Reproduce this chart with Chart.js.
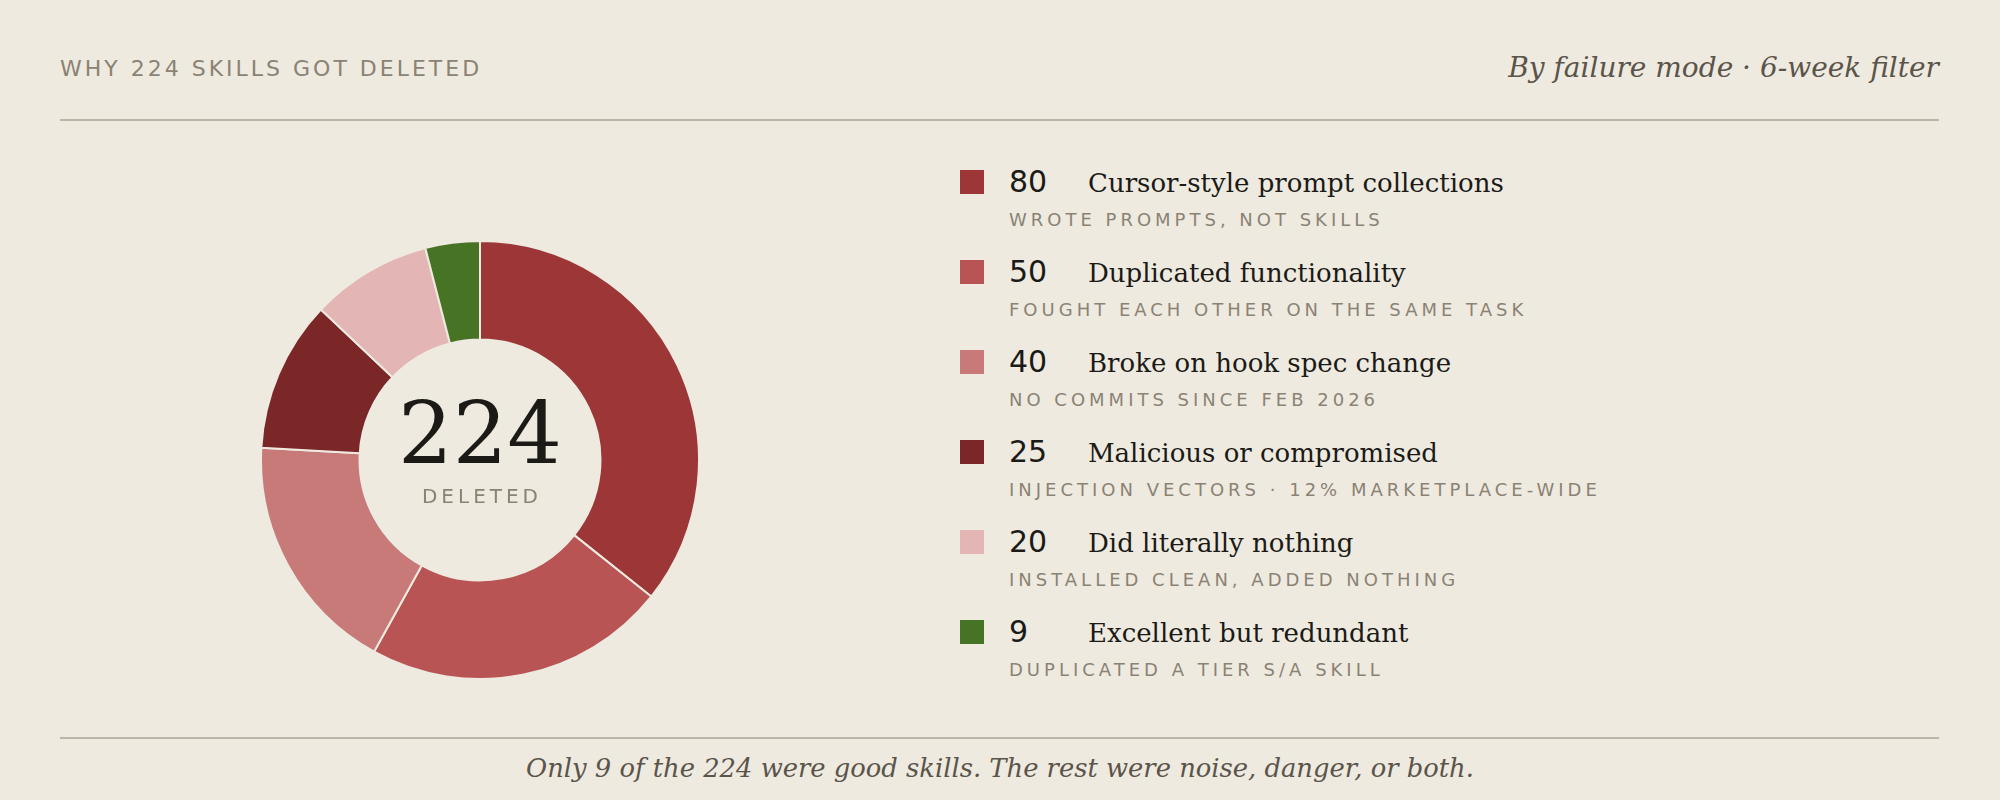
<!DOCTYPE html>
<html>
<head>
<meta charset="utf-8">
<script src="https://cdn.jsdelivr.net/npm/chart.js@4.4.1/dist/chart.umd.min.js"></script>
<style>
  html, body { margin: 0; padding: 0; }
  body { width: 2000px; height: 800px; background: #eeeae0; position: relative; overflow: hidden; }
  .abs { position: absolute; white-space: nowrap; }
  #title { left: 60px; top: 58px; font: 22px/22px "DejaVu Sans", sans-serif; letter-spacing: 3px; color: #8b8274; }
  #subtitle { right: 61px; top: 54px; font: italic 28px/28px "DejaVu Serif", serif; color: #5b544a; }
  .rule { position: absolute; left: 60px; width: 1879px; height: 2px; background: #bbb5a8; }
  #footer { left: 0; width: 2000px; text-align: center; top: 755px; font: italic 25.8px/26px "DejaVu Serif", serif; color: #5b544a; }
  #chartWrap { position: absolute; left: 260px; top: 240px; width: 440px; height: 440px; }
  #centerNum { left: 280px; width: 400px; text-align: center; top: 390px; font: 86px/86px "DejaVu Serif", serif; color: #1b1a17; }
  #centerLbl { left: 280px; width: 400px; text-align: center; top: 486px; font: 20px/20px "DejaVu Sans", sans-serif; letter-spacing: 4px; padding-left: 4px; box-sizing: border-box; color: #8b8274; }
  .row { position: absolute; left: 960px; width: 900px; height: 90px; }
  .sw { position: absolute; left: 0; top: 20px; width: 24px; height: 24px; }
  .num { position: absolute; left: 49px; top: 17px; font: 30px/30px "DejaVu Sans", sans-serif; color: #1b1a17; white-space: nowrap; }
  .lbl { position: absolute; left: 128px; top: 20px; font: 26px/26px "DejaVu Serif", serif; color: #1b1a17; white-space: nowrap; }
  .note { position: absolute; left: 49px; top: 61px; font: 18px/18px "DejaVu Sans", sans-serif; letter-spacing: 4px; color: #8b8274; white-space: nowrap; }
</style>
</head>
<body>
<div id="title" class="abs">WHY 224 SKILLS GOT DELETED</div>
<div id="subtitle" class="abs">By failure mode · 6-week filter</div>
<div class="rule" style="top:119px"></div>
<div id="chartWrap"><canvas id="c" width="440" height="440"></canvas></div>
<div id="centerNum" class="abs"></div>
<div id="centerLbl" class="abs">DELETED</div>
<div id="legend"></div>
<div class="rule" style="top:737px"></div>
<div id="footer" class="abs">Only 9 of the 224 were good skills. The rest were noise, danger, or both.</div>
<script>
const categories = [
  "Cursor-style prompt collections",
  "Duplicated functionality",
  "Broke on hook spec change",
  "Malicious or compromised",
  "Did literally nothing",
  "Excellent but redundant"
];
const counts = [80, 50, 40, 25, 20, 9];
const notes = [
  "WROTE PROMPTS, NOT SKILLS",
  "FOUGHT EACH OTHER ON THE SAME TASK",
  "NO COMMITS SINCE FEB 2026",
  "INJECTION VECTORS · 12% MARKETPLACE-WIDE",
  "INSTALLED CLEAN, ADDED NOTHING",
  "DUPLICATED A TIER S/A SKILL"
];
const sliceColors = ["#9d3737", "#b95454", "#c87a79", "#7b2627", "#e3b6b5", "#477324"];
const bgColor = "#eeeae0";

const total = counts.reduce((a, b) => a + b, 0);
document.getElementById('centerNum').textContent = String(total);

const legend = document.getElementById('legend');
categories.forEach((cat, i) => {
  const row = document.createElement('div');
  row.className = 'row';
  row.style.top = (150 + i * 90) + 'px';
  row.innerHTML =
    '<div class="sw" style="background:' + sliceColors[i] + '"></div>' +
    '<div class="num">' + counts[i] + '</div>' +
    '<div class="lbl">' + cat + '</div>' +
    '<div class="note">' + notes[i] + '</div>';
  legend.appendChild(row);
});

new Chart(document.getElementById('c'), {
  type: 'doughnut',
  data: {
    labels: categories,
    datasets: [{
      data: counts,
      backgroundColor: sliceColors,
      borderColor: bgColor,
      borderWidth: 2,
      hoverOffset: 0
    }]
  },
  options: {
    responsive: false,
    animation: false,
    cutout: '55%',
    layout: { padding: 0 },
    plugins: { legend: { display: false }, tooltip: { enabled: false } }
  }
});
</script>
</body>
</html>
